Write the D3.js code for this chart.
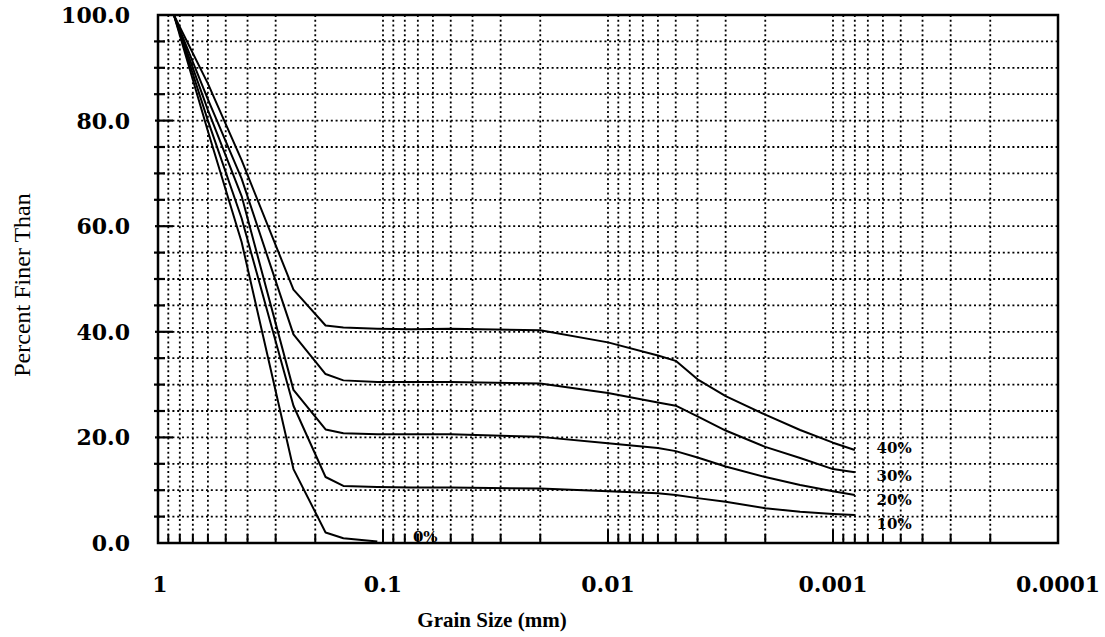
<!DOCTYPE html>
<html>
<head>
<meta charset="utf-8">
<script src="https://cdn.jsdelivr.net/npm/d3@7"></script>
<style>
  body { margin: 0; background: #fff; }
  svg { display: block; }
</style>
</head>
<body>
<svg id="chart"></svg>
<script>
// grain size (mm) where the curves were read
const sizes = [0.85, 0.6, 0.425, 0.25, 0.18, 0.15, 0.106, 0.075, 0.05, 0.02, 0.01, 0.006, 0.005, 0.004, 0.003, 0.002, 0.0014, 0.001, 0.0008];

// percent finer for each mix
const pct0  = [100, 78, 57, 14, 2, 0.9, 0.3, null, null, null, null, null, null, null, null, null, null, null, null];
const pct10 = [100, 80, 61.5, 26, 12.5, 10.8, 10.6, 10.5, 10.5, 10.3, 9.8, 9.4, 9.1, 8.5, 7.8, 6.6, 5.9, 5.5, 5.3];
const pct20 = [100, 82, 65.7, 29, 21.5, 20.8, 20.6, 20.6, 20.6, 20.1, 18.9, 18, 17.4, 16.2, 14.5, 12.5, 11, 9.8, 9.1];
const pct30 = [100, 84, 69, 39.5, 32, 30.8, 30.5, 30.5, 30.5, 30.2, 28.4, 26.6, 26, 24, 21.3, 18.2, 16.1, 14, 13.4];
const pct40 = [100, 87, 72.5, 48, 41.2, 40.8, 40.6, 40.5, 40.6, 40.3, 38, 35.5, 34.5, 31, 27.8, 24.3, 21.4, 19, 17.6];

const seriesNames = ["0%", "10%", "20%", "30%", "40%"];
const seriesValues = [pct0, pct10, pct20, pct30, pct40];
// where each curve label sits (size, percent)
const labelSize = [0.0736, 0.00064, 0.00064, 0.00064, 0.00064];
const labelPct = [1.1, 3.6, 8.1, 12.7, 18];

const xTickLabels = ["1", "0.1", "0.01", "0.001", "0.0001"];
const xTickVals = [1, 0.1, 0.01, 0.001, 0.0001];
const yTickVals = [0, 20, 40, 60, 80, 100];

const W = 1105, H = 637;
const plot = { left: 158, right: 1058, top: 15, bottom: 543 };

const svg = d3.select("#chart").attr("width", W).attr("height", H);
svg.append("rect").attr("width", W).attr("height", H).attr("fill", "#fff");

const x = d3.scaleLog().domain([1, 0.0001]).range([plot.left, plot.right]);
const y = d3.scaleLinear().domain([0, 100]).range([plot.bottom, plot.top]);

const serif = "'DejaVu Serif', serif";

// dotted grid
const minorX = x.ticks().filter(v => v < 1 && v > 0.0001);
svg.append("g").selectAll("line")
  .data(minorX)
  .join("line")
  .attr("x1", d => x(d)).attr("x2", d => x(d))
  .attr("y1", plot.top).attr("y2", plot.bottom)
  .attr("stroke", "#000").attr("stroke-width", 1.8)
  .attr("stroke-dasharray", "2,2.8");

const gridY = d3.range(5, 100, 5);
svg.append("g").selectAll("line")
  .data(gridY)
  .join("line")
  .attr("x1", plot.left).attr("x2", plot.right)
  .attr("y1", d => y(d)).attr("y2", d => y(d))
  .attr("stroke", "#000").attr("stroke-width", 1.8)
  .attr("stroke-dasharray", "2,2.8");

// bottom ticks (pointing up into the plot)
svg.append("g").selectAll("line")
  .data(minorX)
  .join("line")
  .attr("x1", d => x(d)).attr("x2", d => x(d))
  .attr("y1", plot.bottom)
  .attr("y2", d => xTickVals.includes(d) ? plot.bottom - 13 : plot.bottom - 9)
  .attr("stroke", "#000").attr("stroke-width", 2);

// left ticks across the frame
svg.append("g").selectAll("line")
  .data(d3.range(5, 100, 5))
  .join("line")
  .attr("x1", d => d % 20 === 0 ? plot.left - 3 : plot.left - 4)
  .attr("x2", d => d % 20 === 0 ? plot.left + 15 : plot.left + 7)
  .attr("y1", d => y(d)).attr("y2", d => y(d))
  .attr("stroke", "#000").attr("stroke-width", 2.2);

// curves
const line = d3.line()
  .defined(d => d[1] != null)
  .x(d => x(d[0]))
  .y(d => y(d[1]));

svg.append("g").selectAll("path")
  .data(seriesValues)
  .join("path")
  .attr("d", vals => line(sizes.map((s, i) => [s, vals[i]])))
  .attr("fill", "none")
  .attr("stroke", "#000")
  .attr("stroke-width", 2)
  .attr("stroke-linejoin", "round");

// curve labels
svg.append("g").selectAll("text")
  .data(seriesNames)
  .join("text")
  .attr("x", (d, i) => x(labelSize[i]))
  .attr("y", (d, i) => y(labelPct[i]))
  .attr("dy", "0.35em")
  .attr("font-family", serif)
  .attr("font-weight", "bold")
  .attr("font-size", 15)
  .text(d => d);

// frame
svg.append("rect")
  .attr("x", plot.left).attr("y", plot.top)
  .attr("width", plot.right - plot.left)
  .attr("height", plot.bottom - plot.top)
  .attr("fill", "none").attr("stroke", "#000").attr("stroke-width", 2.5);

// y tick labels
svg.append("g").selectAll("text")
  .data(yTickVals)
  .join("text")
  .attr("x", 130)
  .attr("y", d => y(d))
  .attr("dy", "0.36em")
  .attr("text-anchor", "end")
  .attr("font-family", serif)
  .attr("font-weight", "bold")
  .attr("font-size", 22)
  .text(d => d3.format(".1f")(d));

// x tick labels
svg.append("g").selectAll("text")
  .data(xTickVals)
  .join("text")
  .attr("x", d => x(d) + (d === 1 ? 2 : 0))
  .attr("y", 592)
  .attr("text-anchor", "middle")
  .attr("font-family", serif)
  .attr("font-weight", "bold")
  .attr("font-size", 22)
  .text((d, i) => xTickLabels[i]);

// axis titles
svg.append("text")
  .attr("x", 492).attr("y", 627)
  .attr("text-anchor", "middle")
  .attr("font-family", "'Liberation Serif', serif")
  .attr("font-weight", "bold")
  .attr("font-size", 21)
  .text("Grain Size (mm)");

svg.append("text")
  .attr("transform", "translate(30,285) rotate(-90)")
  .attr("text-anchor", "middle")
  .attr("font-family", "'Liberation Serif', serif")
  .attr("font-size", 24)
  .text("Percent Finer Than");
</script>
</body>
</html>
